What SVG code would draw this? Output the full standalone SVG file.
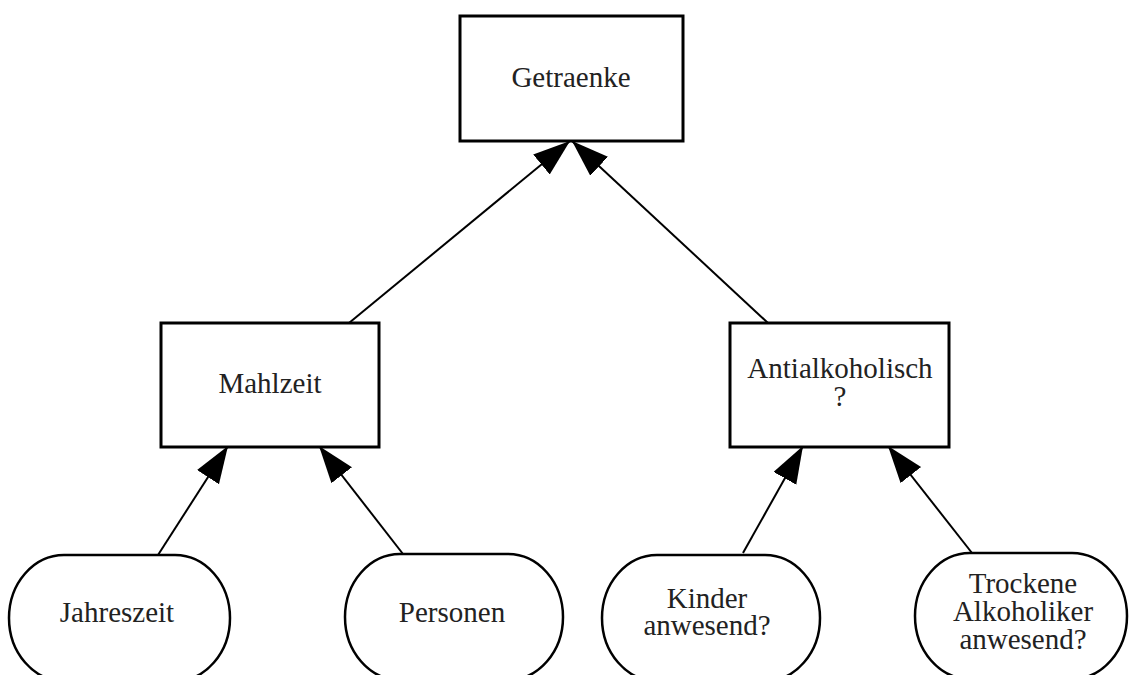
<svg xmlns="http://www.w3.org/2000/svg" width="1129" height="675" viewBox="0 0 1129 675">
<style>
.box{fill:#fff;stroke:#000;stroke-width:3}
.term{fill:#fff;stroke:#000;stroke-width:2.5}
.edge{stroke:#000;stroke-width:2;fill:none}
text{font-family:"Liberation Serif","Times New Roman",serif;font-size:29px;fill:#222;text-anchor:middle}
</style>
<defs>
<marker id="ah" markerUnits="userSpaceOnUse" markerWidth="38" markerHeight="28" refX="37" refY="13" orient="auto">
<path d="M0,0 L37,13 L0,26 Z" fill="#000"/>
</marker>
</defs>
<rect width="1129" height="675" fill="#fff"/>
<g id="connectors">
<line class="edge" x1="349" y1="323" x2="570" y2="141" marker-end="url(#ah)"/>
<line class="edge" x1="768" y1="323" x2="572" y2="141" marker-end="url(#ah)"/>
<line class="edge" x1="158" y1="555" x2="228" y2="446" marker-end="url(#ah)"/>
<line class="edge" x1="403" y1="554" x2="319" y2="446" marker-end="url(#ah)"/>
<line class="edge" x1="743" y1="553" x2="803" y2="446" marker-end="url(#ah)"/>
<line class="edge" x1="972" y1="553" x2="888" y2="446" marker-end="url(#ah)"/>
</g>
<g id="getraenke">
<rect class="box" x="460" y="16" width="223" height="125"/>
<text x="571" y="87">Getraenke</text>
</g>
<g id="mahlzeit">
<rect class="box" x="161" y="323" width="218" height="124"/>
<text x="270" y="393">Mahlzeit</text>
</g>
<g id="antialkoholisch">
<rect class="box" x="730" y="323" width="219" height="124"/>
<text x="840" y="378">Antialkoholisch</text>
<text x="840" y="406">?</text>
</g>
<g id="jahreszeit">
<rect class="term" x="9" y="555" width="221" height="126" rx="55" ry="63"/>
<text x="117" y="622">Jahreszeit</text>
</g>
<g id="personen">
<rect class="term" x="345" y="554" width="218" height="126" rx="55" ry="63"/>
<text x="452" y="622">Personen</text>
</g>
<g id="kinder">
<rect class="term" x="602" y="555" width="218" height="126" rx="55" ry="63"/>
<text x="707" y="608">Kinder</text>
<text x="707" y="635">anwesend?</text>
</g>
<g id="trockene">
<rect class="term" x="915" y="553" width="212" height="126" rx="55" ry="63"/>
<text x="1023" y="593">Trockene</text>
<text x="1023" y="621">Alkoholiker</text>
<text x="1023" y="649">anwesend?</text>
</g>
</svg>
